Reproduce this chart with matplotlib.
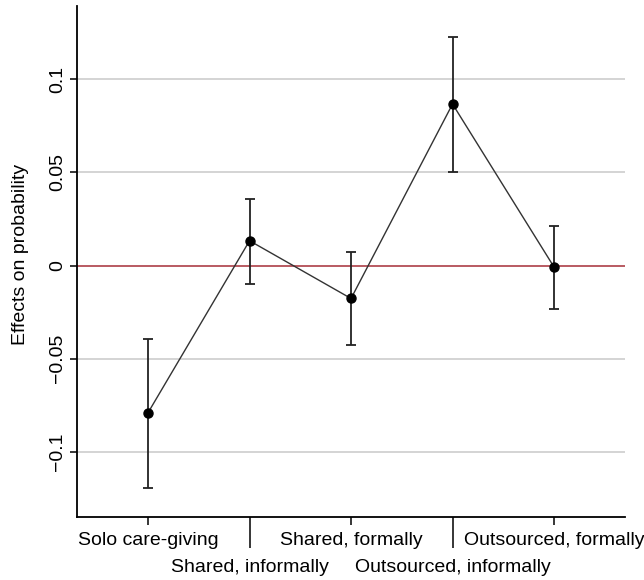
import matplotlib
matplotlib.use("Agg")
import matplotlib.pyplot as plt

plt.rcParams['font.family'] = ['Liberation Sans', 'DejaVu Sans']

# categories and estimates
categories = ["Solo care-giving", "Shared, informally", "Shared, formally",
              "Outsourced, informally", "Outsourced, formally"]
estimate = [-0.0790, 0.0133, -0.0177, 0.0867, -0.0008]
ci_low = [-0.1195, -0.0100, -0.0428, 0.0504, -0.0236]
ci_high = [-0.0396, 0.0357, 0.0070, 0.1227, 0.0214]
yticks = [-0.1, -0.05, 0, 0.05, 0.1]
ytick_labels = ["\u22120.1", "\u22120.05", "0", "0.05", "0.1"]

xpos = list(range(1, len(categories) + 1))
err_lo = [e - l for e, l in zip(estimate, ci_low)]
err_hi = [h - e for e, h in zip(estimate, ci_high)]

fig = plt.figure(figsize=(6.44, 5.80), dpi=100)
ax = fig.add_axes([0.1196, 0.1086, 0.851, 0.881])

# grid + zero line
for yv in yticks:
    if yv == 0:
        ax.axhline(yv, color="#b34d55", lw=1.3, zorder=1)
    else:
        ax.axhline(yv, color="#d4d4d4", lw=1.4, zorder=0)

ax.plot(xpos, estimate, color="#333333", lw=1.0, zorder=2)
ax.errorbar(xpos, estimate, yerr=[err_lo, err_hi], fmt="o", color="black",
            ms=6.5, ecolor="#222222", elinewidth=1.3, capsize=3.8,
            capthick=1.3, zorder=3)

ax.set_xlim(0.3, 5.7)
ax.set_ylim(-0.135, 0.1393)

ax.spines["top"].set_visible(False)
ax.spines["right"].set_visible(False)
ax.spines["left"].set_linewidth(1.3)
ax.spines["bottom"].set_linewidth(1.3)

ax.set_yticks(yticks)
ax.set_yticklabels(ytick_labels, rotation=90, va="center")
ax.tick_params(axis="y", length=5, width=1.1, pad=3, labelsize=14)

# staggered x labels: odd on first row, even on second row with long ticks
ax.set_xticks(xpos[0::2])
ax.set_xticklabels(categories[0::2])
ax.set_xticks(xpos[1::2], minor=True)
ax.set_xticklabels(categories[1::2], minor=True)
ax.tick_params(axis="x", which="major", length=5.5, width=1.1, pad=5.5, labelsize=14)
ax.tick_params(axis="x", which="minor", length=22, width=1.1, pad=8, labelsize=14)

ax.set_ylabel("Effects on probability", fontsize=14, labelpad=14)
ax.yaxis.label.set_y(0.513)

fig.savefig("out.png", dpi=100)
